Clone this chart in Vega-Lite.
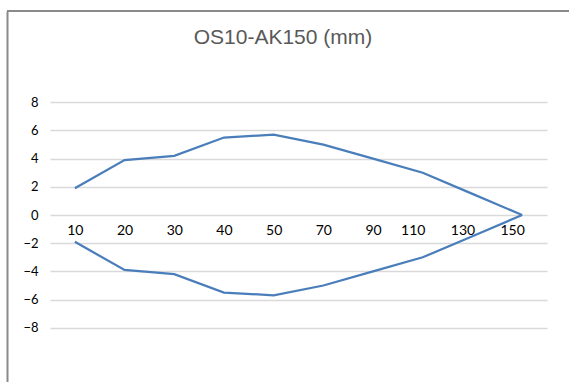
{
  "$schema": "https://vega.github.io/schema/vega-lite/v6.json",
  "width": 562,
  "height": 371,
  "autosize": {"type": "none"},
  "padding": {"left": 7, "top": 11, "right": 0, "bottom": 0},
  "background": "white",
  "config": {"view": {"stroke": null}},
  "title": {
    "text": "OS10-AK150 (mm)",
    "font": "Liberation Sans",
    "fontSize": 21,
    "fontWeight": "normal",
    "color": "#595959",
    "anchor": "middle",
    "frame": "group",
    "dx": -5,
    "offset": -55,
    "baseline": "alphabetic"
  },
  "data": {
    "values": [
      {"pos": "10", "value": 1.9, "side": "upper"},
      {"pos": "20", "value": 3.9, "side": "upper"},
      {"pos": "30", "value": 4.2, "side": "upper"},
      {"pos": "40", "value": 5.5, "side": "upper"},
      {"pos": "50", "value": 5.7, "side": "upper"},
      {"pos": "70", "value": 5.0, "side": "upper"},
      {"pos": "90", "value": 4.0, "side": "upper"},
      {"pos": "110", "value": 3.0, "side": "upper"},
      {"pos": "130", "value": 1.5, "side": "upper"},
      {"pos": "150", "value": 0, "side": "upper"},
      {"pos": "10", "value": -1.9, "side": "lower"},
      {"pos": "20", "value": -3.9, "side": "lower"},
      {"pos": "30", "value": -4.2, "side": "lower"},
      {"pos": "40", "value": -5.5, "side": "lower"},
      {"pos": "50", "value": -5.7, "side": "lower"},
      {"pos": "70", "value": -5.0, "side": "lower"},
      {"pos": "90", "value": -4.0, "side": "lower"},
      {"pos": "110", "value": -3.0, "side": "lower"},
      {"pos": "130", "value": -1.5, "side": "lower"},
      {"pos": "150", "value": 0, "side": "lower"}
    ]
  },
  "layer": [
    {
      "mark": {"type": "line", "color": "#4A7EBB", "strokeWidth": 2.25},
      "encoding": {
        "x": {
          "field": "pos",
          "type": "ordinal",
          "sort": ["10", "20", "30", "40", "50", "70", "90", "110", "130", "150"],
          "scale": {"type": "point", "range": [43, 540], "padding": 0.5},
          "axis": {
            "orient": "bottom",
            "offset": -167,
            "grid": false,
            "domain": false,
            "ticks": false,
            "labelAngle": 0,
            "labelPadding": 8,
            "labelFont": "Lato",
            "labelFontSize": 14,
            "labelColor": "#000000",
            "labelOffset": {"condition": {"test": "length(datum.label) > 2", "value": -10}, "value": 0},
            "title": null
          }
        },
        "y": {
          "field": "value",
          "type": "quantitative",
          "scale": {"domain": [-11.85, 14.48], "nice": false, "zero": false},
          "axis": {
            "orient": "left",
            "values": [-8, -6, -4, -2, 0, 2, 4, 6, 8],
            "offset": -43,
            "grid": true,
            "gridColor": "#D9D9D9",
            "gridWidth": 1.5,
            "domain": false,
            "ticks": false,
            "labelPadding": 12,
            "labelFont": "Lato",
            "labelFontSize": 13,
            "labelColor": "#000000",
            "title": null
          }
        },
        "detail": {"field": "side"}
      }
    },
    {
      "mark": {"type": "rule", "color": "#8a8a8a", "strokeWidth": 2},
      "encoding": {
        "y": {
          "datum": 14.48,
          "type": "quantitative",
          "scale": {"domain": [-11.85, 14.48], "nice": false, "zero": false},
          "axis": {
            "orient": "left",
            "offset": 0,
            "grid": false,
            "domain": true,
            "domainColor": "#8a8a8a",
            "domainWidth": 2,
            "ticks": false,
            "labels": false,
            "title": null
          }
        }
      }
    }
  ],
  "resolve": {"axis": {"y": "independent"}}
}
